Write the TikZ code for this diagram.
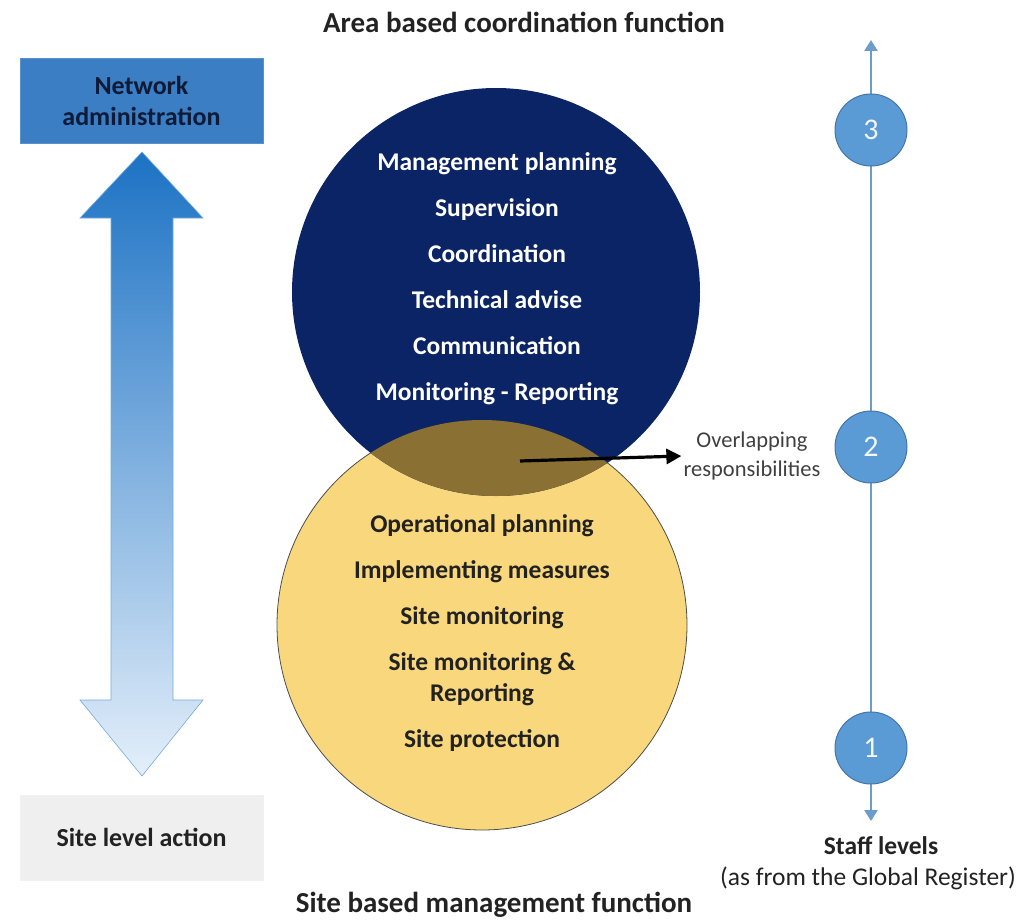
\documentclass[tikz,border=0pt]{standalone}
\usepackage{fontspec}
\setmainfont{Carlito}
\usetikzlibrary{arrows.meta}
\definecolor{navy}{HTML}{0B2466}
\definecolor{sand}{HTML}{F9D77C}
\definecolor{olivebr}{HTML}{8A7133}
\definecolor{netblue}{HTML}{3B7EC4}
\definecolor{nettext}{HTML}{0E1B38}
\definecolor{lvlblue}{HTML}{5B9BD5}
\definecolor{lvlborder}{HTML}{4675A8}
\definecolor{axisblue}{HTML}{6C9CCB}
\definecolor{arrtop}{HTML}{1C72C4}
\definecolor{arrbot}{HTML}{E4EFFA}
\definecolor{greybox}{HTML}{EFEFEF}
\definecolor{txt}{HTML}{222222}
\begin{document}
\begin{tikzpicture}[x=1pt,y=-1pt,
  bigtxt/.style={font=\fontsize{25.5}{46}\selectfont\bfseries, align=center},
  sidebox/.style={minimum width=243pt, minimum height=85pt, align=center, inner sep=0pt,
     font=\fontsize{26}{31}\selectfont\bfseries},
  lvl/.style={circle, fill=lvlblue, draw=lvlborder, line width=1pt, minimum size=72pt, inner sep=0pt,
     text=white!92!lvlblue, font=\fontsize{30}{32}\selectfont},
  axis/.style={draw=axisblue, line width=2.5pt, {Triangle[length=11pt,width=13pt]}-{Triangle[length=11pt,width=13pt]}},
  caption/.style={font=\fontsize{29}{32}\selectfont\bfseries, text=txt},
]
\useasboundingbox (0,0) rectangle (1020,923);

% titles
\node[caption] (ttop) at (524,22) {Area based coordination function};
\node[caption] (tbot) at (494,905) {Site based management function};

% side boxes
\node[sidebox, fill=netblue, draw=netblue!85!white, text=nettext] (net) at (141.5,100.5) {Network\\administration};
\node[sidebox, fill=greybox, draw=greybox!90!white, text=txt] (site) at (141.5,837.5) {Site level action};

% double arrow
\shade[top color=arrtop, bottom color=arrbot, draw=arrtop!60!white, line width=0.6pt]
  (142,152) -- (203,218) -- (173,218) -- (173,700) -- (203,700) -- (142,776)
  -- (80,700) -- (111,700) -- (111,218) -- (80,218) -- cycle;

% circles
\node[circle, minimum size=410pt, inner sep=0pt, fill=sand, draw=black!70, line width=0.8pt] (yc) at (482,625) {};
\node[circle, minimum size=408pt, inner sep=0pt, fill=navy] (nc) at (496,292) {};
\begin{scope}
  \clip (nc.center) circle (204pt);
  \fill[olivebr] (yc.center) circle (205pt);
\end{scope}

\node[bigtxt, text=white] (ntxt) at (497,279) {Management planning\\Supervision\\Coordination\\Technical advise\\Communication\\Monitoring - Reporting};
\node[bigtxt, text=txt] (ytxt) at (482,633) {Operational planning\\Implementing measures\\Site monitoring\\Site monitoring \&\\[-15pt]Reporting\\Site protection};

% overlap arrow
\coordinate (ovs) at (520,461);
\node[font=\fontsize{22.5}{29}\selectfont, text=black!75, align=center, inner sep=2pt] (olab) at (752,456) {Overlapping\\responsibilities};
\draw[line width=3.2pt, -{Triangle[length=15pt,width=15pt]}] (ovs) -- (olab.west);

% staff levels axis
\coordinate (atop) at (871,40);
\coordinate (abot) at (871,821);
\draw[axis] (atop) -- (abot);
\node[lvl] (l3) at (871,130) {3};
\node[lvl] (l2) at (871,447) {2};
\node[lvl] (l1) at (871,748) {1};

\node[font=\fontsize{25.5}{30}\selectfont\bfseries, text=txt] (slab) at (881,846) {Staff levels};
\node[font=\fontsize{25.5}{30}\selectfont, text=txt] (sreg) at (868,878) {(as from the Global Register)};
\end{tikzpicture}
\end{document}
